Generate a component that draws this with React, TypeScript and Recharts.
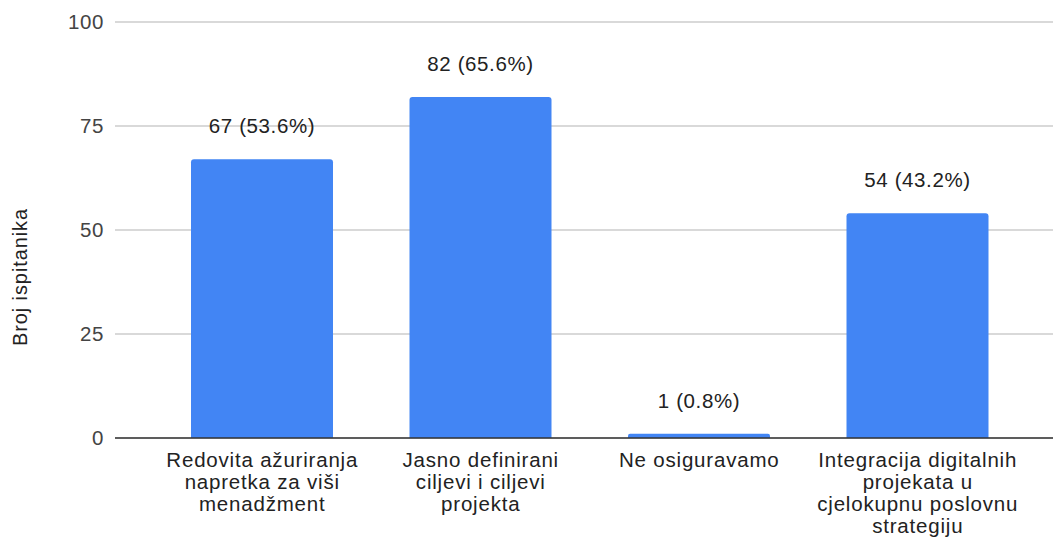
import React from 'react';
import { BarChart, Bar, XAxis, YAxis, CartesianGrid, LabelList, Label } from 'recharts';

const categories = [
  'Redovita ažuriranja napretka za viši menadžment',
  'Jasno definirani ciljevi i ciljevi projekta',
  'Ne osiguravamo',
  'Integracija digitalnih projekata u cjelokupnu poslovnu strategiju',
];
const tickLines = [
  ['Redovita ažuriranja', 'napretka za viši', 'menadžment'],
  ['Jasno definirani', 'ciljevi i ciljevi', 'projekta'],
  ['Ne osiguravamo'],
  ['Integracija digitalnih', 'projekata u', 'cjelokupnu poslovnu', 'strategiju'],
];
const counts = [67, 82, 1, 54];
const percents = [53.6, 65.6, 0.8, 43.2];
const yTicks = [0, 25, 50, 75, 100];
const yTitle = 'Broj ispitanika';

const data = categories.map((name, i) => ({
  name,
  value: counts[i],
  label: `${counts[i]} (${percents[i].toFixed(1)}%)`,
  lines: tickLines[i],
}));

const FONT = '"Liberation Sans", Arial, sans-serif';

const XTick = (props: any) => {
  const { x, y, payload, index } = props;
  const lines = tickLines[index] ?? [payload.value];
  return (
    <g>
      {lines.map((l: string, i: number) => (
        <text
          key={i}
          x={x}
          y={y + 29 + i * 22}
          textAnchor="middle"
          fontFamily={FONT}
          fontSize={20.5}
          letterSpacing={0.8}
          fill="#222"
        >
          {l}
        </text>
      ))}
    </g>
  );
};

const YTick = (props: any) => {
  const { x, y, payload } = props;
  return (
    <text x={x} y={y} dy="0.355em" textAnchor="end" fontFamily={FONT} fontSize={20.5} letterSpacing={0.6} fill="#444">
      {payload.value}
    </text>
  );
};

const TopLabel = (props: any) => {
  const { x, y, width, index } = props;
  return (
    <text
      x={x + width / 2}
      y={y - 26}
      textAnchor="middle"
      fontFamily={FONT}
      fontSize={20.5}
      letterSpacing={0.6}
      fill="#222"
    >
      {data[index].label}
    </text>
  );
};

export default function App() {
  return (
    <div style={{ position: 'absolute', left: 0, top: 0, width: 1053, height: 539, background: '#fff' }}>
      <BarChart width={1053} height={539} data={data} margin={{ top: 22, right: 0, bottom: 0, left: 0 }}>
        <CartesianGrid vertical={false} stroke="#cccccc" strokeWidth={1.5} />
        <YAxis
          width={115}
          domain={[0, 100]}
          ticks={yTicks}
          axisLine={false}
          tickLine={false}
          tickSize={0}
          tickMargin={11}
          tick={<YTick />}
          interval={0}
        >
          <Label
            content={() => (
              <text
                transform="translate(27,277) rotate(-90)"
                textAnchor="middle"
                fontFamily={FONT}
                fontSize={20}
                letterSpacing={0.9}
                fill="#222"
              >
                {yTitle}
              </text>
            )}
          />
        </YAxis>
        <XAxis
          dataKey="name"
          height={101}
          padding={{ left: 38, right: 26 }}
          axisLine={{ stroke: '#333', strokeWidth: 1.5 }}
          tickLine={false}
          tickSize={0}
          tickMargin={0}
          tick={<XTick />}
          interval={0}
        />
        <Bar dataKey="value" fill="#4285F4" barSize={142} radius={[3, 3, 0, 0]} isAnimationActive={false}>
          <LabelList dataKey="label" content={<TopLabel />} />
        </Bar>
      </BarChart>
    </div>
  );
}
